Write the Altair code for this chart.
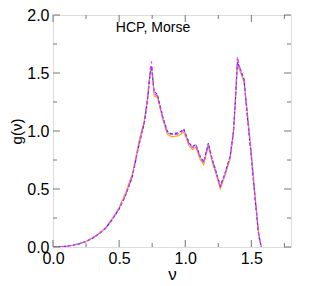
import altair as alt
import pandas as pd

# frequency grid (shared by all series)
nu = [0.00, 0.05, 0.10, 0.15, 0.20, 0.25, 0.30, 0.35, 0.40, 0.45, 0.50, 0.55,
      0.60, 0.65, 0.69, 0.715, 0.735, 0.745, 0.765, 0.79, 0.83, 0.865, 0.90,
      0.95, 0.99, 1.03, 1.055, 1.08, 1.115, 1.14, 1.175, 1.205, 1.235, 1.265,
      1.30, 1.34, 1.365, 1.38, 1.395, 1.42, 1.445, 1.47, 1.50, 1.53, 1.555, 1.575]

g_orange = [0, 0.002, 0.007, 0.016, 0.030, 0.050, 0.080, 0.120, 0.170, 0.250, 0.340, 0.470,
            0.630, 0.910, 1.090, 1.290, 1.510, 1.550, 1.300, 1.290, 1.100, 0.970, 0.950,
            0.960, 0.990, 0.870, 0.840, 0.860, 0.750, 0.710, 0.870, 0.730, 0.620, 0.500,
            0.610, 0.760, 0.980, 1.250, 1.570, 1.500, 1.420, 1.160, 0.810, 0.430, 0.130, 0.0]

g_lavender = [0, 0.002, 0.006, 0.015, 0.028, 0.048, 0.077, 0.115, 0.165, 0.240, 0.330, 0.450,
              0.610, 0.880, 1.070, 1.270, 1.500, 1.560, 1.330, 1.310, 1.120, 0.990, 0.970,
              0.980, 1.010, 0.890, 0.860, 0.880, 0.770, 0.730, 0.890, 0.750, 0.640, 0.520,
              0.630, 0.780, 1.000, 1.280, 1.590, 1.520, 1.440, 1.130, 0.780, 0.400, 0.110, 0.0]

g_blue = [0, 0.002, 0.006, 0.015, 0.028, 0.047, 0.076, 0.114, 0.163, 0.238, 0.327, 0.447,
          0.605, 0.875, 1.065, 1.265, 1.500, 1.560, 1.340, 1.315, 1.125, 0.995, 0.975,
          0.985, 1.015, 0.895, 0.865, 0.885, 0.775, 0.735, 0.895, 0.755, 0.645, 0.525,
          0.635, 0.785, 1.005, 1.285, 1.595, 1.525, 1.445, 1.120, 0.770, 0.390, 0.100, 0.0]

g_magenta = [0, 0.002, 0.006, 0.015, 0.029, 0.048, 0.078, 0.116, 0.166, 0.242, 0.332, 0.452,
             0.612, 0.885, 1.075, 1.275, 1.530, 1.600, 1.320, 1.300, 1.110, 0.985, 0.965,
             0.975, 1.005, 0.885, 0.855, 0.875, 0.765, 0.725, 0.885, 0.745, 0.635, 0.515,
             0.625, 0.775, 0.995, 1.280, 1.640, 1.510, 1.435, 1.140, 0.790, 0.410, 0.120, 0.0]

series_names = ["orange", "lavender", "blue", "magenta"]
series_vals = [g_orange, g_lavender, g_blue, g_magenta]
series_colors = ["#FFA500", "#B8A0FF", "#3030FF", "#FF30FF"]
series_dash = [[1, 0], [4, 2], [3, 2], [4, 3]]

x_major = [0.0, 0.5, 1.0, 1.5]
x_minor = [0.25, 0.75, 1.25, 1.75]
y_major = [0.0, 0.5, 1.0, 1.5, 2.0]
y_minor = [0.25, 0.75, 1.25, 1.75]
label_text = "HCP, Morse"

rows = []
for i, (name, vals) in enumerate(zip(series_names, series_vals)):
    for x, y in zip(nu, vals):
        rows.append({"nu": x, "g": y, "series": name, "order": i})
df = pd.DataFrame(rows)

W, H = 238, 232
xscale = alt.Scale(domain=[0, 1.8], nice=False, zero=False)
yscale = alt.Scale(domain=[0, 2.0], nice=False, zero=False)

FONT = "Liberation Sans"

xaxis = alt.Axis(values=x_major, format=".1f", ticks=False, domain=False, grid=False,
                 labelFlush=False, labelOverlap=False,
                 labelFontSize=16, labelFont=FONT, labelColor="black", labelPadding=3,
                 title="ν", titleFontSize=17, titleFont=FONT, titleFontWeight="normal",
                 titleColor="black", titlePadding=0)
yaxis = alt.Axis(values=y_major, format=".1f", ticks=False, domain=False, grid=False,
                 labelFlush=False, labelOverlap=False,
                 labelFontSize=16, labelFont=FONT, labelColor="black", labelPadding=4,
                 title="g(ν)", titleFontSize=15, titleFont=FONT, titleFontWeight="normal",
                 titleColor="black", titlePadding=2)

layers = []
for name, color, dash in zip(series_names, series_colors, series_dash):
    sub = df[df.series == name]
    layers.append(
        alt.Chart(sub).mark_line(color=color, strokeDash=dash, strokeWidth=1.1, clip=True).encode(
            x=alt.X("nu:Q", scale=xscale, axis=xaxis),
            y=alt.Y("g:Q", scale=yscale, axis=yaxis),
            order="nu:Q",
        )
    )

tick_color = "#777777"

def xticks(vals, length, top):
    d = pd.DataFrame({"t": vals})
    if top:
        return alt.Chart(d).mark_rule(color=tick_color, strokeWidth=1).encode(
            x=alt.X("t:Q", scale=xscale), y=alt.value(0), y2=alt.value(length))
    return alt.Chart(d).mark_rule(color=tick_color, strokeWidth=1).encode(
        x=alt.X("t:Q", scale=xscale), y=alt.value(H), y2=alt.value(H - length))

def yticks(vals, length, right):
    d = pd.DataFrame({"t": vals})
    if right:
        return alt.Chart(d).mark_rule(color=tick_color, strokeWidth=1).encode(
            y=alt.Y("t:Q", scale=yscale), x=alt.value(W), x2=alt.value(W - length))
    return alt.Chart(d).mark_rule(color=tick_color, strokeWidth=1).encode(
        y=alt.Y("t:Q", scale=yscale), x=alt.value(0), x2=alt.value(length))

tick_layers = [
    xticks(x_major, 7, False), xticks(x_minor, 4, False),
    xticks(x_major, 7, True), xticks(x_minor, 4, True),
    yticks(y_major, 7, False), yticks(y_minor, 4, False),
    yticks(y_major, 7, True), yticks(y_minor, 4, True),
]

title_layer = alt.Chart(pd.DataFrame({"txt": [label_text]})).mark_text(
    fontSize=14, font=FONT, color="black", align="center", baseline="middle"
).encode(x=alt.value(100), y=alt.value(13), text="txt:N")

chart = alt.layer(*layers, *tick_layers, title_layer).properties(
    width=W, height=H,
    autosize=alt.AutoSizeParams(type="none"),
    padding={"left": 45, "top": 7, "right": 10, "bottom": 38},
).configure_view(stroke="black", strokeWidth=1).configure(background="white")

chart.save("out.html", embed_options={"renderer": "svg", "actions": False})
